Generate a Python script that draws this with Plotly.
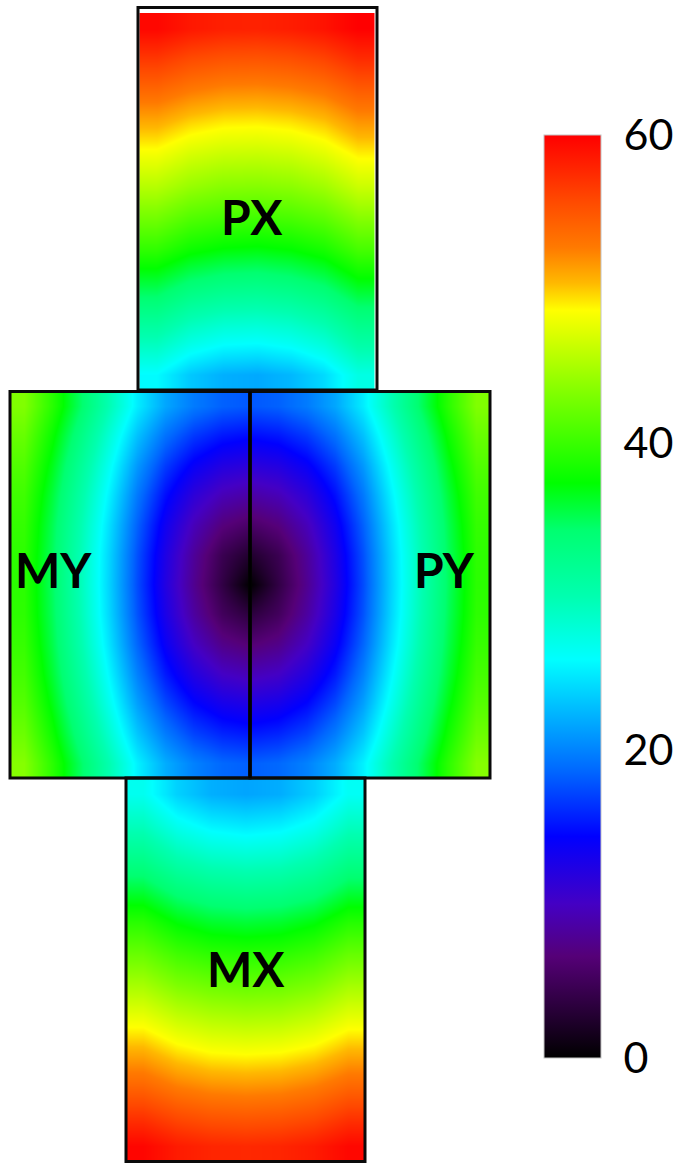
import plotly.graph_objects as go

# Opening angle (deg) sampled on a regular grid over each detector face.
# Rows run top to bottom, columns left to right.

# PX face (above the side faces)
z_px = [
    [59.6, 58.6, 58.1, 58.0, 58.3, 58.9, 60.0],
    [56.6, 55.5, 55.0, 54.9, 55.2, 55.9, 57.3],
    [53.7, 52.6, 52.0, 51.9, 52.2, 52.9, 54.4],
    [50.8, 49.6, 49.0, 48.9, 49.2, 50.0, 51.6],
    [48.1, 46.8, 46.2, 46.1, 46.4, 47.3, 48.9],
    [45.5, 44.2, 43.5, 43.4, 43.7, 44.6, 46.4],
    [42.6, 41.1, 40.5, 40.3, 40.7, 41.6, 43.5],
    [39.6, 38.0, 37.3, 37.1, 37.5, 38.5, 40.6],
    [36.1, 34.4, 33.6, 33.4, 33.9, 35.0, 37.2],
    [32.7, 30.7, 29.8, 29.6, 30.1, 31.4, 33.8],
    [29.3, 27.2, 26.1, 25.9, 26.5, 27.9, 30.7],
    [25.8, 23.3, 22.1, 21.8, 22.5, 24.2, 27.3],
]

# MY and PY faces side by side (MY = left half, PY = right half)
z_side = [
    [43.2, 39.2, 34.6, 29.8, 25.1, 21.7, 19.6, 18.4, 18.0, 18.4, 19.6, 21.7, 25.1, 29.8, 34.6, 39.2, 43.2],
    [42.0, 37.8, 33.0, 28.0, 22.9, 19.1, 16.6, 15.2, 14.7, 15.2, 16.6, 19.1, 22.9, 28.0, 33.0, 37.8, 42.0],
    [41.0, 36.7, 31.7, 26.5, 21.0, 16.8, 13.9, 12.2, 11.6, 12.2, 13.9, 16.8, 21.0, 26.5, 31.7, 36.7, 41.0],
    [40.2, 35.8, 30.7, 25.3, 19.5, 14.9, 11.5, 9.4, 8.6, 9.4, 11.5, 14.9, 19.5, 25.3, 30.7, 35.8, 40.2],
    [39.7, 35.2, 30.0, 24.4, 18.4, 13.4, 9.5, 6.8, 5.6, 6.8, 9.5, 13.4, 18.4, 24.4, 30.0, 35.2, 39.7],
    [39.4, 34.9, 29.6, 23.9, 17.7, 12.5, 8.1, 4.5, 2.5, 4.5, 8.1, 12.5, 17.7, 23.9, 29.6, 34.9, 39.4],
    [39.3, 34.8, 29.5, 23.8, 17.5, 12.2, 7.7, 3.8, 0.0, 3.8, 7.7, 12.2, 17.5, 23.8, 29.5, 34.8, 39.3],
    [39.4, 35.0, 29.7, 24.0, 17.8, 12.7, 8.4, 5.1, 3.4, 5.1, 8.4, 12.7, 17.8, 24.0, 29.7, 35.0, 39.4],
    [39.8, 35.4, 30.2, 24.6, 18.6, 13.8, 10.0, 7.4, 6.4, 7.4, 10.0, 13.8, 18.6, 24.6, 30.2, 35.4, 39.8],
    [40.4, 36.0, 31.0, 25.6, 19.9, 15.4, 12.2, 10.1, 9.4, 10.1, 12.2, 15.4, 19.9, 25.6, 31.0, 36.0, 40.4],
    [41.2, 36.9, 32.0, 26.8, 21.4, 17.4, 14.6, 13.0, 12.4, 13.0, 14.6, 17.4, 21.4, 26.8, 32.0, 36.9, 41.2],
    [42.2, 38.0, 33.2, 28.3, 23.2, 19.6, 17.1, 15.8, 15.3, 15.8, 17.1, 19.6, 23.2, 28.3, 33.2, 38.0, 42.2],
    [43.4, 39.3, 34.7, 30.0, 25.3, 22.0, 19.9, 18.7, 18.3, 18.7, 19.9, 22.0, 25.3, 30.0, 34.7, 39.3, 43.4],
]

# MX face (below the side faces)
z_mx = [
    [26.7, 23.7, 22.1, 21.6, 22.0, 23.6, 26.4],
    [29.4, 26.8, 25.4, 24.9, 25.3, 26.6, 29.2],
    [32.5, 30.1, 28.9, 28.5, 28.8, 30.0, 32.3],
    [35.8, 33.7, 32.6, 32.2, 32.5, 33.5, 35.6],
    [39.2, 37.2, 36.2, 35.9, 36.2, 37.1, 39.0],
    [42.1, 40.3, 39.4, 39.1, 39.3, 40.2, 42.0],
    [44.9, 43.2, 42.4, 42.1, 42.3, 43.1, 44.8],
    [47.8, 46.2, 45.4, 45.1, 45.3, 46.1, 47.6],
    [50.7, 49.2, 48.4, 48.2, 48.4, 49.1, 50.5],
    [53.6, 52.2, 51.5, 51.3, 51.5, 52.2, 53.5],
    [56.7, 55.4, 54.7, 54.5, 54.7, 55.3, 56.6],
    [59.7, 58.4, 57.8, 57.6, 57.8, 58.4, 59.6],
]

face_names = ["PX", "MY", "PY", "MX"]
cbar_ticks = [0, 20, 40, 60]
z_min, z_max = 0, 60

# ---- page geometry (layout units = pixels) ----
W, H = 678, 1163
# (left, right, top, bottom) of the coloured area of each face
AREA = {
    "PX": (139.5, 374.0, 13.0, 390.0),
    "SIDE": (10.0, 490.0, 391.0, 778.0),
    "MX": (126.0, 365.0, 778.0, 1162.0),
}
# black frames drawn round the faces
FRAMES = {
    "PX": (138.0, 377.0, 7.5, 390.0),
    "MY": (10.0, 250.0, 391.5, 778.0),
    "PY": (250.0, 490.0, 391.5, 778.0),
    "MX": (126.0, 365.0, 778.0, 1161.5),
}
LABEL_POS = {"PX": (252, 216), "MY": (53, 569), "PY": (444, 569), "MX": (246, 968)}

colorscale = [
    [0.000, "#000000"],
    [0.110, "#550077"],
    [0.167, "#4400c4"],
    [0.240, "#0000ff"],
    [0.310, "#0066ff"],
    [0.432, "#00ffff"],
    [0.500, "#00ffb0"],
    [0.572, "#00ff70"],
    [0.623, "#00ff00"],
    [0.720, "#80ff00"],
    [0.810, "#ffff00"],
    [0.840, "#ffb800"],
    [0.878, "#ff7a00"],
    [0.930, "#ff4800"],
    [0.960, "#ff2800"],
    [1.000, "#ff0000"],
]


def face_heatmap(z, box):
    left, right, top, bottom = box
    nr, nc = len(z), len(z[0])
    dx = (right - left) / nc
    dy = (bottom - top) / nr
    return go.Heatmap(
        z=z,
        x0=left + dx / 2, dx=dx,
        y0=top + dy / 2, dy=dy,
        coloraxis="coloraxis",
        zsmooth="best",
        hoverinfo="skip",
    )


fig = go.Figure()
fig.add_trace(face_heatmap(z_px, AREA["PX"]))
fig.add_trace(face_heatmap(z_mx, AREA["MX"]))
fig.add_trace(face_heatmap(z_side, AREA["SIDE"]))

for name, (x0, x1, y0, y1) in FRAMES.items():
    fig.add_shape(type="rect", x0=x0, x1=x1, y0=y0, y1=y1,
                  line=dict(color="#0a0a0a", width=3), layer="above")
# dividing line between MY and PY
fig.add_shape(type="line", x0=250, x1=250, y0=391.5, y1=778,
              line=dict(color="#000000", width=3.4), layer="above")

for name in face_names:
    lx, ly = LABEL_POS[name]
    fig.add_annotation(x=lx, y=ly, text=name, showarrow=False,
                       xanchor="center", yanchor="middle",
                       font=dict(family="Lato", size=48, color="black", weight="bold"))

bar_top, bar_bottom, bar_left, bar_width = 135, 1058, 544, 57
fig.update_layout(
    width=W, height=H,
    margin=dict(l=0, r=0, t=0, b=0, autoexpand=False),
    paper_bgcolor="white", plot_bgcolor="white",
    showlegend=False,
    xaxis=dict(range=[0, W], visible=False, fixedrange=True),
    yaxis=dict(range=[H, 0], visible=False, fixedrange=True),
    coloraxis=dict(
        cmin=z_min, cmax=z_max, colorscale=colorscale,
        colorbar=dict(
            thickness=bar_width, thicknessmode="pixels",
            len=bar_bottom - bar_top, lenmode="pixels",
            x=bar_left / W, xanchor="left",
            y=1 - (bar_top + bar_bottom) / 2 / H, yanchor="middle",
            xpad=0, ypad=0,
            outlinewidth=1, outlinecolor="#c4c4c4",
            tickvals=cbar_ticks, ticktext=[str(t) for t in cbar_ticks],
            ticks="outside", ticklen=14, tickcolor="rgba(0,0,0,0)",
            tickfont=dict(family="Lato", size=43, color="black"),
        ),
    ),
)

fig.write_html("out.html")
